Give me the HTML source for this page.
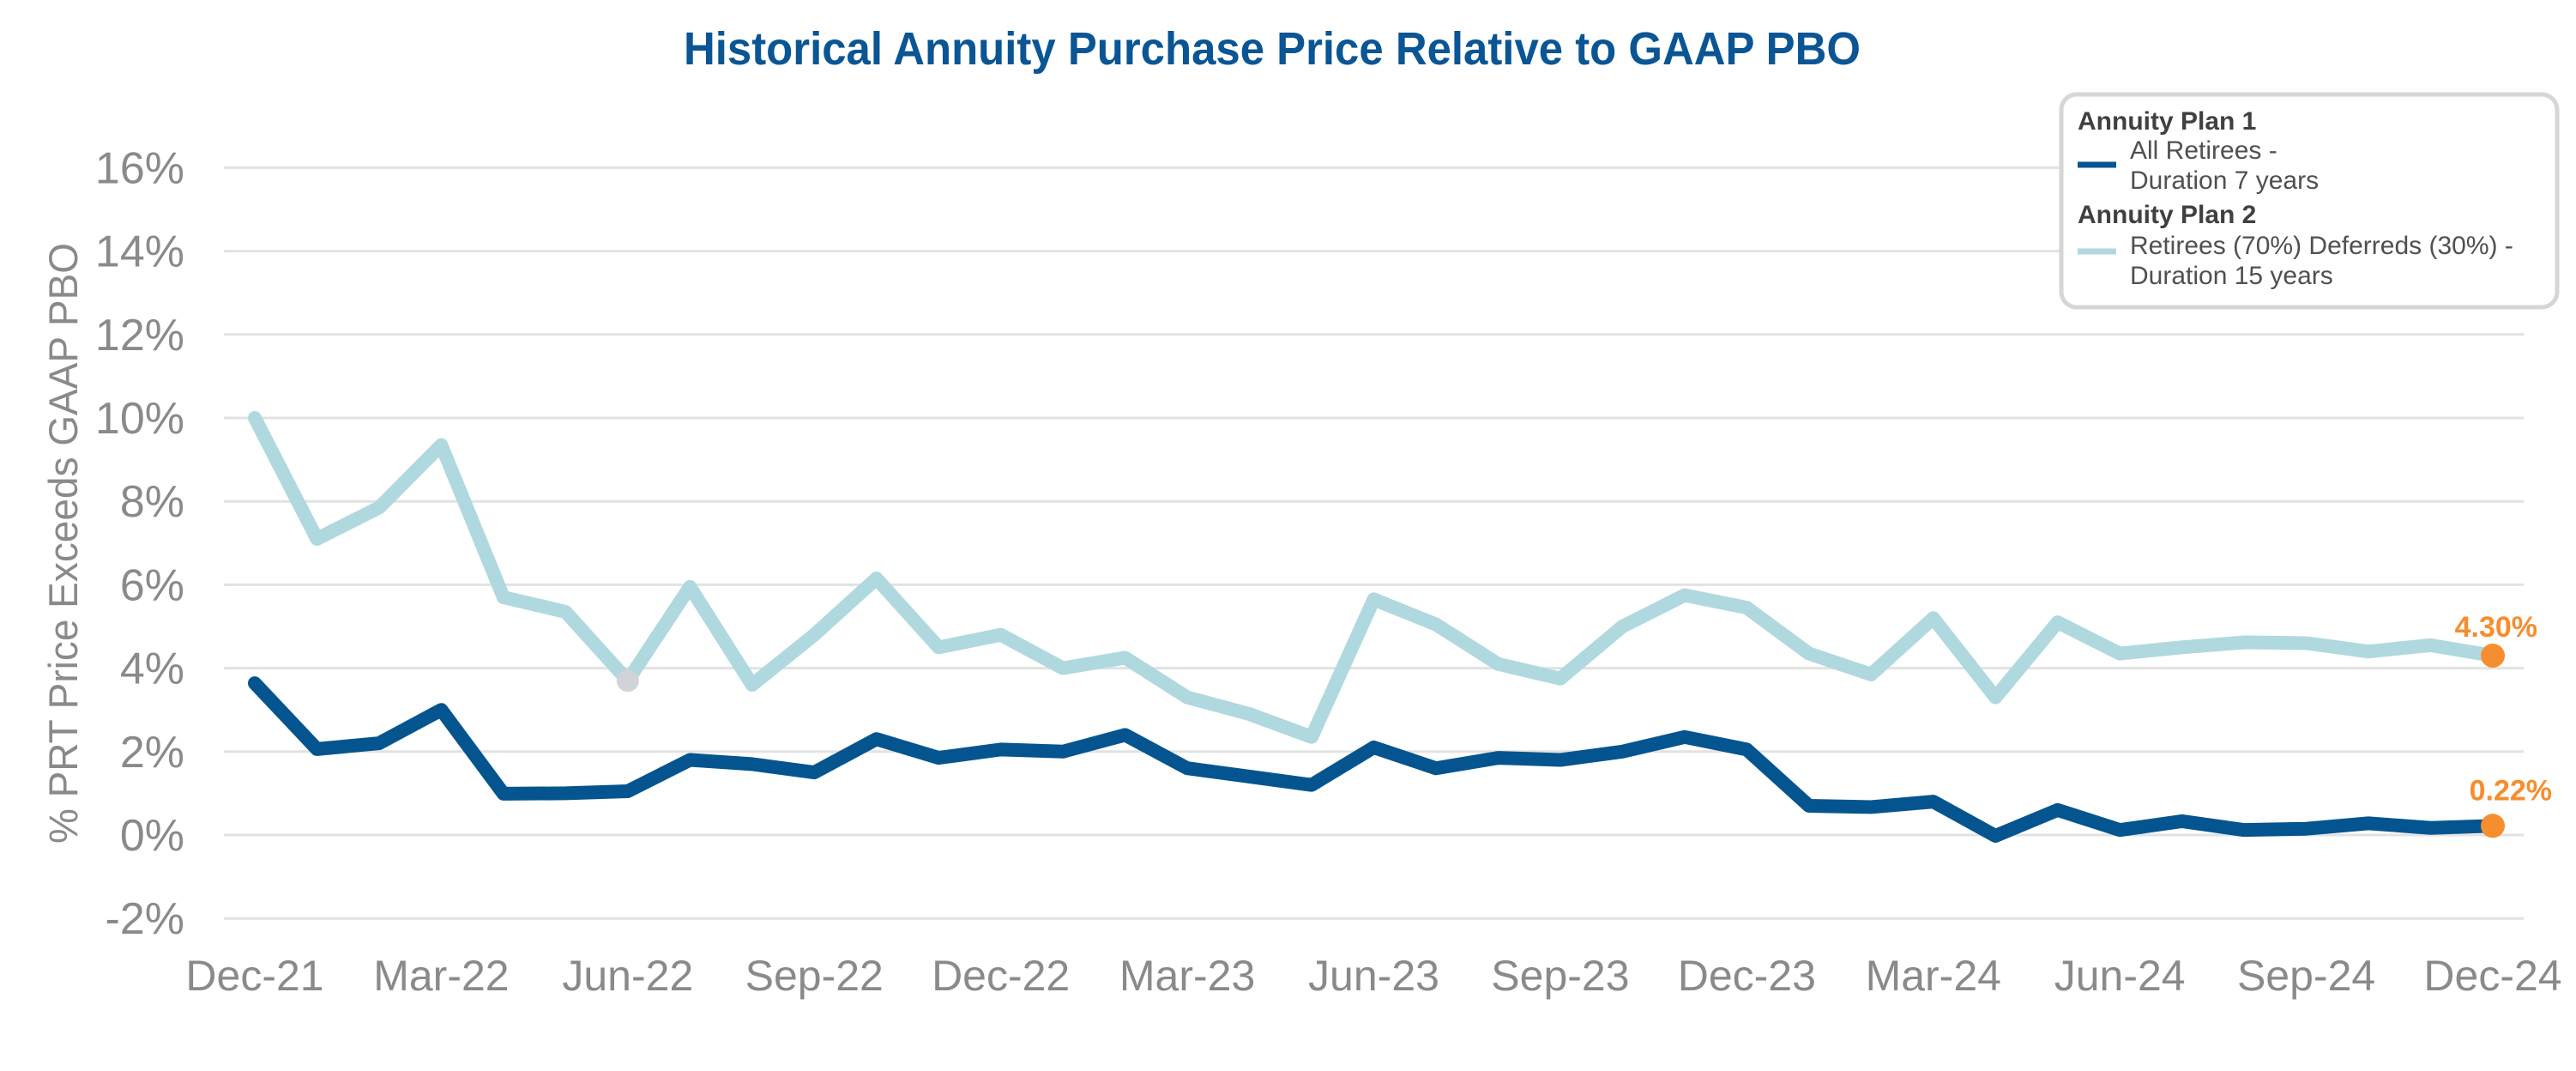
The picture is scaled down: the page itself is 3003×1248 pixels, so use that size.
<!DOCTYPE html>
<html><head><meta charset="utf-8"><style>
html,body{margin:0;padding:0;background:#fff;}
svg{display:block;font-family:"Liberation Sans",sans-serif;}
</style></head><body>
<svg id="chart" width="3003" height="1248" viewBox="0 0 3003 1248">
<text x="797" y="75" font-size="54" font-weight="bold" fill="#0a5594" textLength="1372" lengthAdjust="spacingAndGlyphs">Historical Annuity Purchase Price Relative to GAAP PBO</text>
<g id="grid"></g>
<g id="yticks"></g>
<g id="xticks"></g>
<text transform="translate(90,633) rotate(-90)" text-anchor="middle" font-size="47" fill="#8a8a8a" textLength="700" lengthAdjust="spacingAndGlyphs">% PRT Price Exceeds GAAP PBO</text>
<g id="series"></g>
<g>
<rect x="2403" y="110" width="578" height="248" rx="18" fill="#fff" stroke="#d6d6d6" stroke-width="5"/>
<text x="2422" y="151" font-size="30" font-weight="bold" fill="#404040">Annuity Plan 1</text>
<line x1="2422" y1="192" x2="2467" y2="192" stroke="#04558f" stroke-width="7"/>
<text x="2483" y="185" font-size="30" fill="#505050"><tspan x="2483">All Retirees -</tspan><tspan x="2483" dy="35">Duration 7 years</tspan></text>
<text x="2422" y="260" font-size="30" font-weight="bold" fill="#404040">Annuity Plan 2</text>
<line x1="2422" y1="293" x2="2467" y2="293" stroke="#afd9df" stroke-width="7"/>
<text x="2483" y="296" font-size="30" fill="#505050"><tspan x="2483">Retirees (70%) Deferreds (30%) -</tspan><tspan x="2483" dy="35">Duration 15 years</tspan></text>
</g>
</svg>
<script>
const months = ["Dec-21","Jan-22","Feb-22","Mar-22","Apr-22","May-22","Jun-22","Jul-22","Aug-22","Sep-22","Oct-22","Nov-22","Dec-22","Jan-23","Feb-23","Mar-23","Apr-23","May-23","Jun-23","Jul-23","Aug-23","Sep-23","Oct-23","Nov-23","Dec-23","Jan-24","Feb-24","Mar-24","Apr-24","May-24","Jun-24","Jul-24","Aug-24","Sep-24","Oct-24","Nov-24","Dec-24"];
const plan1 = [3.64,2.06,2.2,3.0,0.99,1.0,1.05,1.8,1.7,1.5,2.3,1.85,2.05,2.0,2.4,1.6,1.4,1.2,2.1,1.6,1.85,1.8,2.0,2.35,2.05,0.7,0.67,0.8,-0.02,0.6,0.12,0.33,0.12,0.15,0.28,0.17,0.22];
const plan2 = [10.0,7.1,7.85,9.35,5.7,5.35,3.7,5.95,3.6,4.8,6.15,4.5,4.8,4.0,4.25,3.3,2.9,2.35,5.65,5.05,4.1,3.75,5.0,5.75,5.45,4.35,3.85,5.2,3.3,5.1,4.35,4.5,4.62,4.6,4.4,4.55,4.30];
const yTicks = [-2,0,2,4,6,8,10,12,14,16];
const xTickLabels = ["Dec-21","Mar-22","Jun-22","Sep-22","Dec-22","Mar-23","Jun-23","Sep-23","Dec-23","Mar-24","Jun-24","Sep-24","Dec-24"];
const endLabels = ["0.22%","4.30%"];

const NS="http://www.w3.org/2000/svg";
const X0=297, X1=2906, Y0=973, PER=48.6;
const xs = i => X0 + (X1-X0)*i/(months.length-1);
const ys = v => Y0 - v*PER;
function mk(tag, attrs, parent){const e=document.createElementNS(NS,tag);for(const k in attrs)e.setAttribute(k,attrs[k]);parent.appendChild(e);return e;}
const grid=document.getElementById('grid'), yt=document.getElementById('yticks'), xt=document.getElementById('xticks'), ser=document.getElementById('series');
yTicks.forEach(v=>{
  const l=mk('line',{x1:261,x2:2942,y1:ys(v),y2:ys(v),stroke:'#e2e2e2','stroke-width':3},grid);
  
  
  const t=mk('text',{x:215,y:ys(v)+18,'text-anchor':'end','font-size':52,fill:'#8a8a8a'},yt);
  t.textContent=v+'%';
  
  
});
xTickLabels.forEach(lab=>{
  const i=months.indexOf(lab);
  const t=mk('text',{x:xs(i),y:1154,'text-anchor':'middle','font-size':50,fill:'#8a8a8a'},xt);
  t.textContent=lab;
  
  
});
function line(data,color,name){
  const p=mk('polyline',{points:data.map((v,i)=>xs(i)+','+ys(v)).join(' '),fill:'none',stroke:color,'stroke-width':16,'stroke-linejoin':'round','stroke-linecap':'round'},ser);
  
  
}
line(plan2,'#afd9df','series-plan-2-line');
line(plan1,'#04558f','series-plan-1-line');
const gm=mk('circle',{cx:xs(6),cy:ys(plan2[6]),r:13,fill:'#d0d3d8'},ser);


[[plan1,endLabels[0],2975,-30],[plan2,endLabels[1],2958,-22]].forEach(([d,lab,tx,dy],k)=>{
  const n=d.length-1;
  const c=mk('circle',{cx:xs(n),cy:ys(d[n]),r:14,fill:'#f68d2e'},ser);
  
  
  const t=mk('text',{x:tx,y:ys(d[n])+dy,'text-anchor':'end','font-size':34,'font-weight':'bold',fill:'#f68d2e'},ser);
  t.textContent=lab;
  
  
});
</script>
</body></html>
